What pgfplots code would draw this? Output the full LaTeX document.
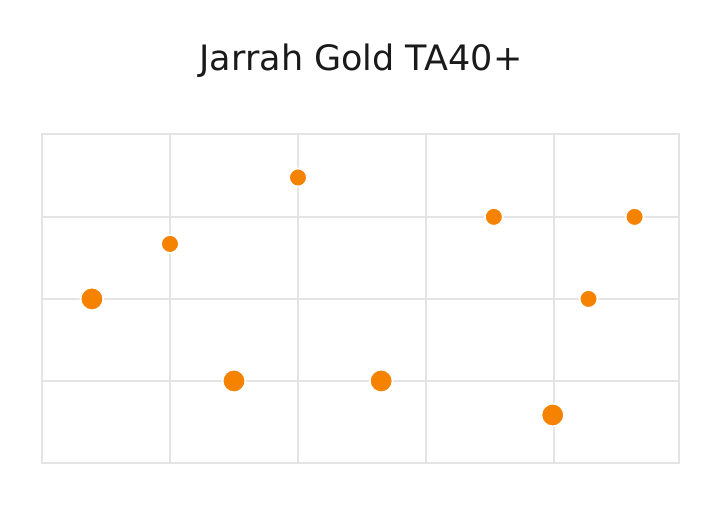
\documentclass[border=0pt]{standalone}
\usepackage{pgfplots}
\pgfplotsset{compat=1.18}
\usepackage{fontspec}
\setmainfont{DejaVu Sans}
\definecolor{dot}{HTML}{F58300}
\definecolor{gridc}{HTML}{E4E4E4}
\definecolor{titlec}{HTML}{1A1A1A}
\begin{document}
\begin{tikzpicture}[x=1pt,y=1pt]
\path[use as bounding box] (0,0) rectangle (718,506);
\node[font=\fontsize{35}{41}\selectfont, text=titlec] at (361,445) {Jarrah Gold TA40+};
\begin{axis}[
  at={(42pt,43pt)}, anchor=south west,
  scale only axis, width=637pt, height=329pt,
  xmin=0, xmax=4.977, ymin=0, ymax=4.01,
  xtick={1,2,3,4}, ytick={1,2,3},
  xticklabels={}, yticklabels={},
  major tick length=0pt,
  grid=major,
  major grid style={draw=gridc, line width=2.2pt},
  axis line style={draw=gridc, line width=2.2pt},
  clip=false,
]
\addplot[only marks, mark=*, mark size=11.4pt, mark options={fill=dot, draw=white, line width=1.8pt}] coordinates {
  (0.39,2) (1.5,1) (2.65,1) (3.99,0.585)
};
\addplot[only marks, mark=*, mark size=9pt, mark options={fill=dot, draw=white, line width=1.8pt}] coordinates {
  (1.0,2.67) (2.0,3.48) (3.53,3) (4.63,3) (4.27,2)
};
\end{axis}
\end{tikzpicture}
\end{document}
